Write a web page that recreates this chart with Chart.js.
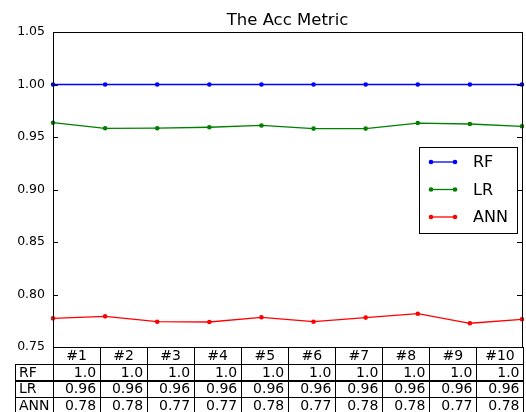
<!DOCTYPE html>
<html>
<head>
<meta charset="utf-8">
<script src="https://cdn.jsdelivr.net/npm/chart.js@4.4.1/dist/chart.umd.min.js"></script>
<style>
  html, body { margin: 0; padding: 0; background: #fff; }
  #wrap { width: 526px; height: 412px; }
</style>
</head>
<body>
<div id="wrap"><canvas id="accChart" width="526" height="412"></canvas></div>
<script>
// data
const runs = ['#1', '#2', '#3', '#4', '#5', '#6', '#7', '#8', '#9', '#10'];
const rfValues = [1.0, 1.0, 1.0, 1.0, 1.0, 1.0, 1.0, 1.0, 1.0, 1.0];
const lrValues = [0.9636, 0.9583, 0.9584, 0.9593, 0.9610, 0.9580, 0.9580, 0.9633, 0.9624, 0.9602];
const annValues = [0.7773, 0.7792, 0.7741, 0.7738, 0.7783, 0.7741, 0.7780, 0.7817, 0.7726, 0.7764];
const seriesNames = ['RF', 'LR', 'ANN'];
const yTicks = [0.75, 0.80, 0.85, 0.90, 0.95, 1.00, 1.05];
const chartTitle = 'The Acc Metric';

const FONT = "'DejaVu Sans', sans-serif";

// same rounding as the table cells in the picture
const cellText = (v) => {
    const r = Math.round(v * 100) / 100;
    return Number.isInteger(r) ? r.toFixed(1) : String(r);
};

const decorPlugin = {
    id: 'decor',
    afterDraw: (chart) => {
        const { ctx, chartArea: a } = chart;
        const y = chart.scales.y;
        ctx.save();

        // axes box
        ctx.strokeStyle = '#000';
        ctx.lineWidth = 1;
        ctx.strokeRect(Math.round(a.left) + 0.5, Math.round(a.top) + 0.5,
            Math.round(a.right - a.left), Math.round(a.bottom - a.top));

        // inward tick marks on both sides
        yTicks.forEach(t => {
            const py = Math.round(y.getPixelForValue(t)) + 0.5;
            ctx.beginPath();
            ctx.moveTo(a.left, py); ctx.lineTo(a.left + 5, py);
            ctx.moveTo(a.right, py); ctx.lineTo(a.right - 5, py);
            ctx.stroke();
        });

        // title
        ctx.fillStyle = '#000';
        ctx.font = '16.5px ' + FONT;
        ctx.textAlign = 'center';
        ctx.textBaseline = 'alphabetic';
        ctx.fillText(chartTitle, (a.left + a.right) / 2, 25);

        // legend
        const lx = 419.5, ly = 147.5, lw = 98, lh = 86;
        ctx.fillStyle = '#fff';
        ctx.fillRect(lx, ly, lw, lh);
        ctx.strokeStyle = '#000';
        ctx.strokeRect(lx, ly, lw, lh);
        ctx.font = '16px ' + FONT;
        ctx.textAlign = 'left';
        ctx.textBaseline = 'middle';
        chart.data.datasets.forEach((ds, i) => {
            const ry = 162 + i * 27.5;
            ctx.strokeStyle = ds.borderColor;
            ctx.fillStyle = ds.borderColor;
            ctx.lineWidth = 1.3;
            ctx.beginPath();
            ctx.moveTo(431, ry); ctx.lineTo(455, ry);
            ctx.stroke();
            [431, 455].forEach(px => {
                ctx.beginPath();
                ctx.arc(px, ry, 2.3, 0, Math.PI * 2);
                ctx.fill();
            });
            ctx.fillStyle = '#000';
            ctx.fillText(ds.label, 473, ry + 1);
        });

        // table under the axes
        const top = a.bottom;
        const rowH = 16.7;
        const colW = (523.5 - a.left) / runs.length;
        const labelLeft = 15;
        ctx.strokeStyle = '#000';
        ctx.lineWidth = 1;
        ctx.font = '14px ' + FONT;
        ctx.textBaseline = 'middle';

        // header row
        runs.forEach((r, i) => {
            const x0 = a.left + i * colW;
            ctx.strokeRect(Math.round(x0) + 0.5, Math.round(top) + 0.5, Math.round(colW), Math.round(rowH));
            ctx.fillStyle = '#000';
            ctx.textAlign = 'center';
            ctx.fillText(r, x0 + colW / 2, top + rowH / 2 + 1);
        });

        // value rows
        const rows = [rfValues, lrValues, annValues];
        rows.forEach((vals, j) => {
            const y0 = top + rowH * (j + 1);
            ctx.strokeRect(labelLeft + 0.5, Math.round(y0) + 0.5, Math.round(a.left - labelLeft), Math.round(rowH));
            ctx.textAlign = 'left';
            ctx.fillText(seriesNames[j], labelLeft + 4, y0 + rowH / 2 + 1);
            vals.forEach((v, i) => {
                const x0 = a.left + i * colW;
                ctx.strokeRect(Math.round(x0) + 0.5, Math.round(y0) + 0.5, Math.round(colW), Math.round(rowH));
                ctx.textAlign = 'right';
                ctx.fillText(cellText(v), x0 + colW - 4, y0 + rowH / 2 + 1);
            });
        });

        ctx.restore();
    }
};

const makeSet = (label, data, color) => ({
    label: label,
    data: data,
    borderColor: color,
    backgroundColor: color,
    borderWidth: 1.3,
    pointRadius: 2.3,
    pointHoverRadius: 2.3,
    pointBorderWidth: 0,
    tension: 0,
    fill: false
});

new Chart(document.getElementById('accChart'), {
    type: 'line',
    data: {
        labels: runs,
        datasets: [
            makeSet(seriesNames[0], rfValues, '#0000ff'),
            makeSet(seriesNames[1], lrValues, '#008000'),
            makeSet(seriesNames[2], annValues, '#ff0000')
        ]
    },
    options: {
        responsive: false,
        animation: false,
        layout: { padding: { left: 0, right: 4, top: 32, bottom: 65 } },
        plugins: {
            legend: { display: false },
            title: { display: false },
            tooltip: { enabled: false }
        },
        scales: {
            x: {
                type: 'category',
                offset: false,
                display: false
            },
            y: {
                min: 0.75,
                max: 1.05,
                afterFit: (scale) => { scale.width = 53; },
                afterBuildTicks: (scale) => {
                    scale.ticks = yTicks.map(v => ({ value: v }));
                },
                grid: { display: false, drawTicks: false },
                border: { display: false },
                ticks: {
                    padding: 8,
                    color: '#000',
                    font: { family: FONT, size: 12.5 },
                    callback: (v) => Number(v).toFixed(2)
                }
            }
        }
    },
    plugins: [decorPlugin]
});
</script>
</body>
</html>
